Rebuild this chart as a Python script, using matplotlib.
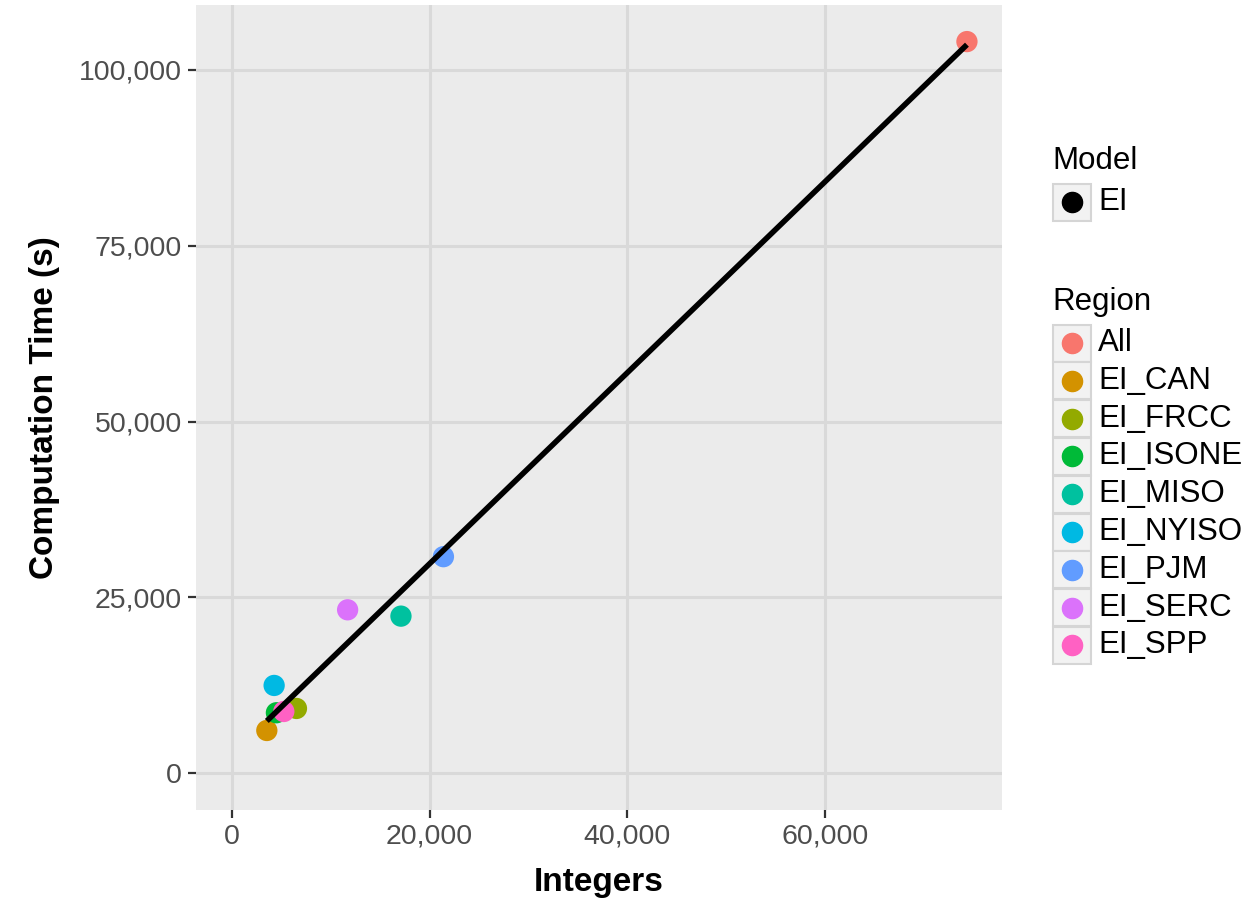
import numpy as np
import matplotlib
matplotlib.use('Agg')
import matplotlib.pyplot as plt
from matplotlib.patches import Rectangle
from matplotlib.lines import Line2D
from matplotlib.ticker import FuncFormatter

plt.rcParams['font.family'] = ['Liberation Sans', 'DejaVu Sans']

# Data
regions = ['All', 'EI_CAN', 'EI_FRCC', 'EI_ISONE', 'EI_MISO',
           'EI_NYISO', 'EI_PJM', 'EI_SERC', 'EI_SPP']
integers = [74400, 3520, 6520, 4490, 17100, 4260, 21400, 11700, 5240]
comp_time = [104000, 6100, 9230, 8620, 22350, 12500, 30800, 23250, 8800]
colors = ['#F8766D', '#D39200', '#93AA00', '#00BA38', '#00C19F',
          '#00B9E3', '#619CFF', '#DB72FB', '#FF61C3']
models = ['EI']

W, H = 1254, 906
fig = plt.figure(figsize=(W / 100, H / 100), dpi=100)
ax = fig.add_axes([196 / W, 1 - 810 / H, (1002 - 196) / W, (810 - 5) / H])

ax.set_facecolor('#EBEBEB')
for s in ax.spines.values():
    s.set_visible(False)
ax.grid(True, color='#D9D9D9', linewidth=2.2)
ax.set_axisbelow(True)

for x, y, c in zip(integers, comp_time, colors):
    ax.scatter(x, y, s=235, color=c, edgecolors='none', zorder=3)

# lm fit, drawn over the data range
slope, intercept = np.polyfit(integers, comp_time, 1)
xs = np.array([min(integers), max(integers)])
ax.plot(xs, slope * xs + intercept, color='black', linewidth=4.0,
        solid_capstyle='butt', zorder=4)

ax.set_xlim(-3650, 77950)
ax.set_ylim(-5200, 109200)
ax.set_xticks([0, 20000, 40000, 60000])
ax.set_yticks([0, 25000, 50000, 75000, 100000])
fmt = FuncFormatter(lambda v, p: '{:,.0f}'.format(v))
ax.xaxis.set_major_formatter(fmt)
ax.yaxis.set_major_formatter(fmt)
ax.tick_params(colors='#333333', labelcolor='#4D4D4D', labelsize=20.5,
               length=6, width=1.6, pad=4)

ax.set_xlabel('Integers', fontsize=24, fontweight='bold', labelpad=12)
ax.set_ylabel('Computation Time (s)', fontsize=24, fontweight='bold',
              labelpad=14)


# Legends, ggplot style
def key(ypix, color):
    fig.add_artist(Rectangle((1053 / W, 1 - (ypix + 18.5) / H), 38 / W, 37 / H,
                             transform=fig.transFigure, facecolor='#F2F2F2',
                             edgecolor='#D5D5D5', linewidth=1.5))
    fig.add_artist(Line2D([1072 / W], [1 - ypix / H], marker='o',
                          markersize=14.5, color=color, linestyle='none',
                          transform=fig.transFigure))


fig.text(1052 / W, 1 - 161 / H, 'Model', fontsize=22.5, va='center', ha='left')
for i, m in enumerate(models):
    yk = 202 + i * 37
    key(yk, 'black')
    fig.text(1098 / W, 1 - yk / H, m, fontsize=22.5, va='center', ha='left')

fig.text(1052 / W, 1 - 302 / H, 'Region', fontsize=22.5, va='center', ha='left')
for i, (r, c) in enumerate(zip(regions, colors)):
    yk = 343 + i * 37.8
    key(yk, c)
    fig.text(1098 / W, 1 - yk / H, r, fontsize=22.5, va='center', ha='left')

fig.savefig('out.png', dpi=100, facecolor='white')
